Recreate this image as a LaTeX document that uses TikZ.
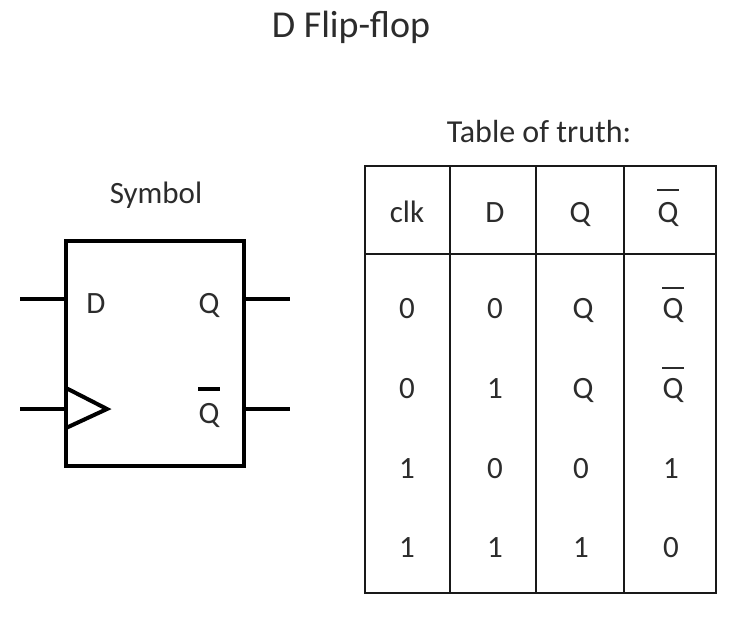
\documentclass[tikz,border=0pt]{standalone}
\usepackage{fontspec}
\setmainfont{Carlito}
\definecolor{txt}{HTML}{2C2C2C}
\begin{document}
\begin{tikzpicture}[x=1pt,y=-1pt,
  lbl/.style={anchor=base,inner sep=0pt,text=txt,font=\fontsize{31}{31}\selectfont},
  ttl/.style={anchor=base,inner sep=0pt,text=txt,font=\fontsize{38}{38}\selectfont},
  thick4/.style={line width=4pt,draw=black},
  grid/.style={line width=2.2pt,draw=black!90},
  qbar/.style={line width=2.2pt,draw=txt}]
\useasboundingbox (0,0) rectangle (746,629);
\fill[white] (0,0) rectangle (746,629);
% titles
\node[ttl] (title) at (351,37) {D Flip-flop};
\node[lbl,font=\fontsize{32}{32}\selectfont] (ttitle) at (539,142) {Table of truth:};
\node[lbl] (sym) at (156,203) {Symbol};
% symbol box
\node[thick4,minimum width=178pt,minimum height=225pt,inner sep=0pt] (ff) at (155,353.5) {};
\coordinate (dIn) at (20,299);
\coordinate (dPin) at (ff.west |- dIn);
\coordinate (cIn) at (20,409);
\coordinate (cPin) at (ff.west |- cIn);
\coordinate (qOut) at (290,299);
\coordinate (qPin) at (ff.east |- qOut);
\coordinate (nOut) at (290,409);
\coordinate (nPin) at (ff.east |- nOut);
\draw[thick4] (dIn) -- (dPin);
\draw[thick4] (cIn) -- (cPin);
\draw[thick4] (qPin) -- (qOut);
\draw[thick4] (nPin) -- (nOut);
\coordinate (triA) at (66,388);
\coordinate (triB) at (107,409);
\coordinate (triC) at (66,428);
\draw[thick4,line join=miter] (triA) -- (triB) -- (triC);
\node[lbl] (sD) at (96,313) {D};
\node[lbl] (sQ) at (209,313) {Q};
\node[lbl] (sN) at (209,423) {Q};
\draw[thick4] ([yshift=14pt]sN.north west) -- ([yshift=14pt]sN.north east);
% table
\draw[grid] (365,166) rectangle (716,593);
\draw[grid] (365,254) -- (716,254);
\draw[grid] (450,166) -- (450,593);
\draw[grid] (536,166) -- (536,593);
\draw[grid] (624,166) -- (624,593);
\node[lbl] (h1) at (407,222) {clk};
\node[lbl] (h2) at (495,222) {D};
\node[lbl] (h3) at (580,222) {Q};
\node[lbl] (h4) at (668,222) {Q};
\node[lbl] (r11) at (407,318) {0};
\node[lbl] (r12) at (495,318) {0};
\node[lbl] (r13) at (583,318) {Q};
\node[lbl] (r14) at (673,318) {Q};
\node[lbl] (r21) at (407,398) {0};
\node[lbl] (r22) at (495,398) {1};
\node[lbl] (r23) at (583,398) {Q};
\node[lbl] (r24) at (673,398) {Q};
\node[lbl] (r31) at (407,478) {1};
\node[lbl] (r32) at (495,478) {0};
\node[lbl] (r33) at (581,478) {0};
\node[lbl] (r34) at (671,478) {1};
\node[lbl] (r41) at (407,557) {1};
\node[lbl] (r42) at (495,557) {1};
\node[lbl] (r43) at (581,557) {1};
\node[lbl] (r44) at (671,557) {0};
\foreach \n/\g in {h4/12,r14/10,r24/10}
  \draw[qbar] ([yshift=\g pt]\n.north west) -- ([yshift=\g pt]\n.north east);
\end{tikzpicture}
\end{document}
